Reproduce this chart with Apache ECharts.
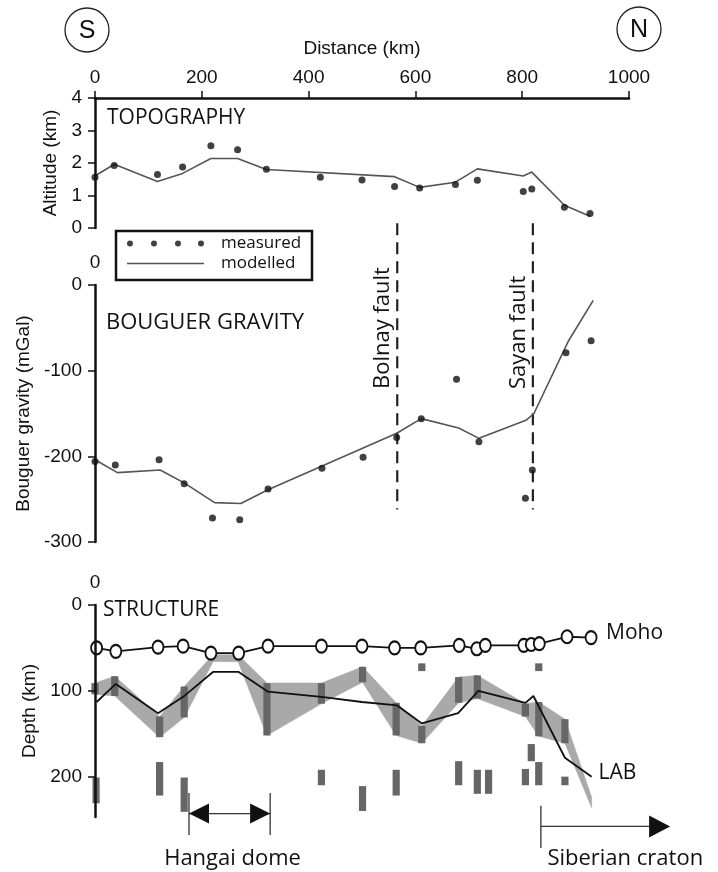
<!DOCTYPE html>
<html><head><meta charset="utf-8">
<script src="https://cdn.jsdelivr.net/npm/echarts@6/dist/echarts.min.js"></script>
<style>html,body{margin:0;padding:0;background:#fff}#c{width:718px;height:872px}</style>
</head><body><div id="c"></div>
<script>
// ---------------- DATA ----------------
const distanceTicks = [0, 200, 400, 600, 800, 1000];

// Topography
const topoMeasKm  = [0, 36, 117, 164, 217, 267, 321, 422, 500, 561, 608, 675, 716, 802, 818, 879, 927];
const topoMeasAlt = [1.56, 1.92, 1.65, 1.88, 2.53, 2.41, 1.81, 1.56, 1.48, 1.28, 1.23, 1.34, 1.47, 1.12, 1.2, 0.64, 0.45];
const topoModelKm  = [0, 36, 117, 164, 217, 267, 321, 561, 608, 675, 716, 802, 818, 879, 927];
const topoModelAlt = [1.6, 1.96, 1.43, 1.68, 2.14, 2.14, 1.8, 1.58, 1.25, 1.41, 1.82, 1.6, 1.72, 0.7, 0.36];

// Bouguer gravity
const gravMeasKm  = [0, 38, 120, 167, 220, 271, 324, 425, 502, 565, 611, 677, 719, 806, 819, 882, 929];
const gravMeasVal = [-206, -210, -204, -232, -272, -274, -238, -214, -201, -178, -156, -110, -183, -249, -216, -79, -65];
const gravModelKm  = [0, 42, 122, 167, 224, 273, 324, 565, 611, 681, 719, 807, 822, 886, 933];
const gravModelVal = [-204, -219, -216, -231, -254, -255, -239, -173, -156, -167, -179, -158, -150, -66, -18];

// Faults (km) and their drawn extent (mGal)
const faultNames = ['Bolnay fault', 'Sayan fault'];
const faultKm = [566, 820];
const faultExtent = [72, -262];

// Structure: Moho
const mohoKm    = [3, 39, 118, 165, 217, 269, 324, 424, 500, 561, 610, 682, 715, 731, 803, 817, 832, 884, 929];
const mohoDepth = [50, 54, 49, 48, 56, 56, 48, 48, 48, 50, 50, 47, 51, 47, 47, 46, 45, 37, 38];

// Structure: LAB (modelled)
const labKm    = [3, 39, 118, 165, 221, 269, 324, 424, 500, 566, 612, 680, 718, 806, 821, 880, 930];
const labDepth = [113, 92, 126, 107, 78, 78, 101, 107, 113, 117, 138, 126, 100, 114, 106, 178, 200];

// Structure: LAB estimate band (grey)
const bandKm     = [0, 37, 121, 167, 221, 268, 322, 424, 501, 564, 612, 681, 716, 806, 831, 880, 930];
const bandTop    = [91, 83, 130, 95, 58, 58, 91, 91, 72, 114, 141, 84, 82, 115, 113, 133, 224];
const bandBottom = [104, 106, 154, 131, 66, 66, 152, 115, 90, 152, 161, 114, 109, 130, 153, 161, 236];

// Structure: individual depth estimates (dark bars)
const barKm     = [0, 37, 121, 167, 322, 424, 501, 564, 612, 681, 716, 806, 831, 880,
                   2, 121, 167, 424, 501, 564, 681, 716, 737, 806, 817, 831, 880, 612, 831];
const barTop    = [91, 83, 130, 95, 91, 91, 72, 114, 141, 84, 82, 115, 113, 133,
                   201, 183, 201, 192, 211, 192, 182, 192, 192, 191, 162, 183, 200, 68, 68];
const barBottom = [104, 106, 154, 131, 152, 115, 90, 152, 161, 114, 109, 130, 153, 161,
                   231, 222, 241, 210, 240, 222, 210, 220, 220, 210, 182, 210, 210, 77, 77];

// Annotations (km / depth)
const hangaiKm = [176, 328];
const hangaiDepths = [243, 219, 268, 296];   // arrow, tick top, tick bottom, label
const cratonKm = [835, 1077];
const cratonDepths = [258, 234, 283, 296];
const cratonLabelKm = 993;

// ---------------- CHART ----------------
const zip = (a, b) => a.map((v, i) => [v, b[i]]);
const INK = '#111';
const tickFont = {fontFamily: '"Liberation Sans", Arial, sans-serif', fontSize: 19, color: INK};
const TF = '"Open Sans", "Noto Sans", sans-serif';
const AXL = {color: INK, width: 2.5};
const TICK = {show: true, length: 7, lineStyle: {color: INK, width: 1.5}};
const plain = v => String(v);

const chart = echarts.init(document.getElementById('c'));

function bandRender(params, api) {
  const i = params.dataIndex;
  if (i >= bandKm.length - 1) return null;
  const a1 = api.coord([bandKm[i], bandTop[i]]);
  const a2 = api.coord([bandKm[i + 1], bandTop[i + 1]]);
  const b2 = api.coord([bandKm[i + 1], bandBottom[i + 1]]);
  const b1 = api.coord([bandKm[i], bandBottom[i]]);
  return {type: 'polygon', shape: {points: [a1, a2, b2, b1]},
          style: {fill: '#a9a9a9', stroke: '#a9a9a9', lineWidth: 0.6}};
}
function barRender(params, api) {
  const t = api.coord([api.value(0), api.value(1)]);
  const b = api.coord([api.value(0), api.value(2)]);
  return {type: 'rect', shape: {x: t[0] - 3.6, y: t[1], width: 7.2, height: b[1] - t[1]},
          style: {fill: '#666'}};
}
function tri(tip, dir, len, half) {
  return {type: 'polygon', shape: {points: [tip, [tip[0] - dir * len, tip[1] - half], [tip[0] - dir * len, tip[1] + half]]},
          style: {fill: INK}};
}
function annotRender(params, api) {
  const ch = [];
  const ls = {stroke: '#333', lineWidth: 1.3};
  // Hangai dome
  const hA = api.coord([hangaiKm[0], hangaiDepths[0]]);
  const hB = api.coord([hangaiKm[1], hangaiDepths[0]]);
  const hT1 = api.coord([hangaiKm[0], hangaiDepths[1]]);
  const hT2 = api.coord([hangaiKm[0], hangaiDepths[2]]);
  const hT3 = api.coord([hangaiKm[1], hangaiDepths[1]]);
  const hT4 = api.coord([hangaiKm[1], hangaiDepths[2]]);
  ch.push({type: 'line', shape: {x1: hT1[0], y1: hT1[1], x2: hT2[0], y2: hT2[1]}, style: ls});
  ch.push({type: 'line', shape: {x1: hT3[0], y1: hT3[1], x2: hT4[0], y2: hT4[1]}, style: ls});
  ch.push({type: 'line', shape: {x1: hA[0], y1: hA[1], x2: hB[0], y2: hB[1]}, style: ls});
  ch.push(tri(hA, -1, 20, 10));
  ch.push(tri(hB, 1, 20, 10));
  const hL = api.coord([(hangaiKm[0] + hangaiKm[1]) / 2, hangaiDepths[3]]);
  ch.push({type: 'text', x: hL[0] + 3, y: hL[1], style: {text: 'Hangai dome', font: '22px ' + TF, fill: INK, align: 'center', verticalAlign: 'middle'}});
  // Siberian craton
  const cA = api.coord([cratonKm[0], cratonDepths[0]]);
  const cB = api.coord([cratonKm[1], cratonDepths[0]]);
  const cT1 = api.coord([cratonKm[0], cratonDepths[1]]);
  const cT2 = api.coord([cratonKm[0], cratonDepths[2]]);
  ch.push({type: 'line', shape: {x1: cT1[0], y1: cT1[1], x2: cT2[0], y2: cT2[1]}, style: ls});
  ch.push({type: 'line', shape: {x1: cA[0], y1: cA[1], x2: cB[0] - 15, y2: cB[1]}, style: ls});
  ch.push(tri(cB, 1, 21, 11));
  const cL = api.coord([cratonLabelKm, cratonDepths[3]]);
  ch.push({type: 'text', x: cL[0], y: cL[1], style: {text: 'Siberian craton', font: '22px ' + TF, fill: INK, align: 'center', verticalAlign: 'middle'}});
  return {type: 'group', children: ch};
}

const hiddenTopX = (gi) => ({
  gridIndex: gi, type: 'value', position: 'top', min: 0, max: 1000, interval: 200,
  axisLine: {show: false, onZero: false}, axisTick: {show: false}, splitLine: {show: false},
  axisLabel: Object.assign({}, tickFont, {margin: 13, formatter: v => (v === 0 ? '0' : '')})
});

const dotsPath = 'path://M0,3a3,3,0,1,0,6,0a3,3,0,1,0,-6,0zM24,3a3,3,0,1,0,6,0a3,3,0,1,0,-6,0zM48,3a3,3,0,1,0,6,0a3,3,0,1,0,-6,0zM71,3a3,3,0,1,0,6,0a3,3,0,1,0,-6,0z';

const series = [
  {name: 'modelled', type: 'line', xAxisIndex: 0, yAxisIndex: 0, data: zip(topoModelKm, topoModelAlt),
   symbol: 'none', lineStyle: {color: '#555', width: 1.6}, itemStyle: {color: '#555'}, z: 3},
  {name: 'measured', type: 'scatter', xAxisIndex: 0, yAxisIndex: 0, data: zip(topoMeasKm, topoMeasAlt),
   symbolSize: 7, itemStyle: {color: INK}, z: 4},
  {name: 'modelled', type: 'line', xAxisIndex: 1, yAxisIndex: 1, data: zip(gravModelKm, gravModelVal),
   symbol: 'none', lineStyle: {color: '#555', width: 1.6}, itemStyle: {color: '#555'}, z: 3},
  {name: 'measured', type: 'scatter', xAxisIndex: 1, yAxisIndex: 1, data: zip(gravMeasKm, gravMeasVal),
   symbolSize: 7, itemStyle: {color: INK}, z: 4}
];
faultKm.forEach((k, i) => series.push({
  name: faultNames[i], type: 'line', xAxisIndex: 1, yAxisIndex: 1, clip: false,
  data: faultExtent.map(v => [k, v]), symbol: 'none',
  lineStyle: {color: '#222', width: 2.2, type: [12, 7]}, z: 2
}));
series.push(
  {name: 'band', type: 'custom', xAxisIndex: 2, yAxisIndex: 2, renderItem: bandRender,
   data: bandKm.map((k, i) => [k, bandTop[i], bandBottom[i]]), z: 1},
  {name: 'bars', type: 'custom', xAxisIndex: 2, yAxisIndex: 2, renderItem: barRender,
   data: barKm.map((k, i) => [k, barTop[i], barBottom[i]]), z: 2},
  {name: 'LAB', type: 'line', xAxisIndex: 2, yAxisIndex: 2, data: zip(labKm, labDepth), symbol: 'none',
   lineStyle: {color: INK, width: 1.8}, itemStyle: {color: INK}, z: 3,
   endLabel: {show: true, formatter: 'LAB', fontFamily: TF, fontSize: 21, color: INK, distance: 7, offset: [0, -4]}},
  {name: 'Moho', type: 'line', xAxisIndex: 2, yAxisIndex: 2, data: zip(mohoKm, mohoDepth),
   symbol: 'emptyCircle', symbolSize: [11, 13], lineStyle: {color: INK, width: 1.8},
   itemStyle: {color: INK, borderColor: INK, borderWidth: 1.5}, z: 4,
   endLabel: {show: true, formatter: 'Moho', fontFamily: TF, fontSize: 21, color: INK, distance: 15, offset: [0, -5]}},
  {name: 'annotations', type: 'custom', xAxisIndex: 2, yAxisIndex: 2, clip: false, renderItem: annotRender,
   data: [[0, 0]], z: 5}
);

const option = {
  animation: false,
  backgroundColor: '#fff',
  grid: [
    {left: 95, top: 98, width: 534, height: 130},
    {left: 95, top: 285, width: 534, height: 257},
    {left: 95, top: 605, width: 534, height: 212}
  ],
  xAxis: [
    {gridIndex: 0, type: 'value', position: 'top', min: 0, max: 1000, interval: 200,
     axisLine: {show: true, onZero: false, lineStyle: AXL}, axisTick: TICK, splitLine: {show: false},
     axisLabel: Object.assign({}, tickFont, {margin: 11, customValues: distanceTicks, formatter: plain}),
     name: 'Distance (km)', nameLocation: 'middle', nameGap: 40, nameTextStyle: tickFont},
    hiddenTopX(1), hiddenTopX(2)
  ],
  yAxis: [
    {gridIndex: 0, type: 'value', min: 0, max: 4, interval: 1, z: 10,
     axisLine: {show: true, onZero: false, lineStyle: AXL}, axisTick: TICK, splitLine: {show: false},
     axisLabel: Object.assign({}, tickFont, {margin: 13, formatter: plain}),
     name: 'Altitude (km)', nameLocation: 'middle', nameGap: 34, nameTextStyle: tickFont},
    {gridIndex: 1, type: 'value', min: -300, max: 0, interval: 100, z: 10,
     axisLine: {show: true, onZero: false, lineStyle: AXL}, axisTick: TICK, splitLine: {show: false},
     axisLabel: Object.assign({}, tickFont, {margin: 13, formatter: plain}),
     name: 'Bouguer gravity (mGal)', nameLocation: 'middle', nameGap: 61, nameTextStyle: tickFont},
    {gridIndex: 2, type: 'value', min: 0, max: 247, inverse: true, z: 10,
     axisLine: {show: true, onZero: false, lineStyle: AXL},
     axisTick: Object.assign({}, TICK, {customValues: [0, 100, 200]}), splitLine: {show: false},
     axisLabel: Object.assign({}, tickFont, {margin: 13, customValues: [0, 100, 200], formatter: plain}),
     name: 'Depth (km)', nameLocation: 'middle', nameGap: 54, nameTextStyle: tickFont}
  ],
  legend: [
    {data: [{name: 'measured', icon: dotsPath}], left: 122, top: 230, itemWidth: 77, itemHeight: 6,
     selectedMode: false, textStyle: {fontFamily: TF, fontSize: 17, color: INK, padding: [0, 0, 0, 12]}},
    {data: [{name: 'modelled', icon: 'path://M0,0H77V1.5H0Z'}], left: 122, top: 250, itemWidth: 77, itemHeight: 1.5,
     selectedMode: false, textStyle: {fontFamily: TF, fontSize: 17, color: INK, padding: [0, 0, 0, 12]}}
  ],
  graphic: [
    {type: 'rect', shape: {x: 116, y: 231, width: 196, height: 49}, style: {fill: 'none', stroke: INK, lineWidth: 2.5}, z: 10},
    {type: 'circle', shape: {cx: 87, cy: 30, r: 22}, style: {fill: 'none', stroke: '#222', lineWidth: 1.3}},
    {type: 'text', x: 87, y: 31, style: {text: 'S', font: '25px "Liberation Sans", Arial', fill: INK, align: 'center', verticalAlign: 'middle'}},
    {type: 'circle', shape: {cx: 639, cy: 29, r: 22}, style: {fill: 'none', stroke: '#222', lineWidth: 1.3}},
    {type: 'text', x: 639, y: 30, style: {text: 'N', font: '25px "Liberation Sans", Arial', fill: INK, align: 'center', verticalAlign: 'middle'}},
    {type: 'text', x: 107, y: 118, style: {text: 'TOPOGRAPHY', font: '21px ' + TF, fill: INK, align: 'left', verticalAlign: 'middle'}},
    {type: 'text', x: 106, y: 323, style: {text: 'BOUGUER GRAVITY', font: '22px ' + TF, fill: INK, align: 'left', verticalAlign: 'middle'}},
    {type: 'text', x: 103, y: 610, style: {text: 'STRUCTURE', font: '21px ' + TF, fill: INK, align: 'left', verticalAlign: 'middle'}},
    {type: 'text', x: 383, y: 389, rotation: Math.PI / 2, style: {text: 'Bolnay fault', font: '22px ' + TF, fill: INK, align: 'left', verticalAlign: 'middle'}},
    {type: 'text', x: 519, y: 389, rotation: Math.PI / 2, style: {text: 'Sayan fault', font: '22px ' + TF, fill: INK, align: 'left', verticalAlign: 'middle'}}
  ],
  series: series
};
chart.setOption(option);
</script>
</body></html>
